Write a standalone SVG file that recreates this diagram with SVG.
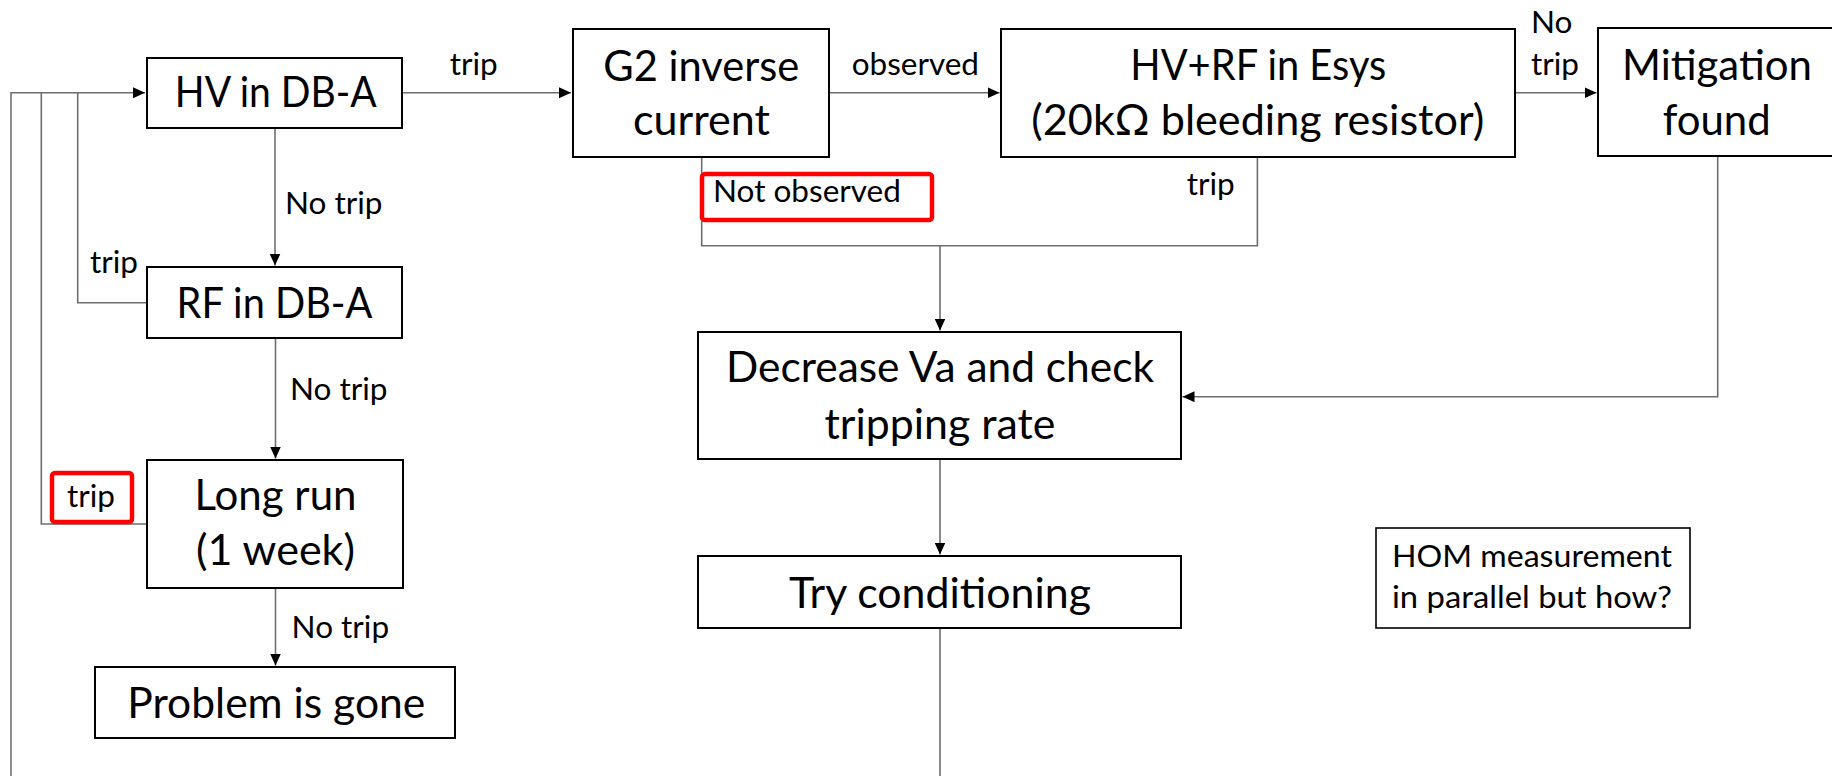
<svg xmlns="http://www.w3.org/2000/svg" width="1832" height="776" viewBox="0 0 1832 776">
<defs>
<style>
.box{fill:#fff;stroke:#000;stroke-width:2}
.hom{fill:#fff;stroke:#000;stroke-width:1.6}
.red{fill:none;stroke:#ff0000;stroke-width:4.5}
.t{font-family:Lato,"Liberation Sans",sans-serif;font-size:42px;fill:#000;text-anchor:middle}
.l{font-family:Lato,"Liberation Sans",sans-serif;font-size:31.5px;fill:#000}
.c{fill:none;stroke:#6e6e6e;stroke-width:1.6}
</style>
<marker id="ah" markerUnits="userSpaceOnUse" markerWidth="13" markerHeight="12" refX="12" refY="5.5" orient="auto">
<path d="M0,0 L12,5.5 L0,11 z" fill="#000"/>
</marker>
</defs>
<rect width="1832" height="776" fill="#fff"/>
<g id="connectors">
<path class="c" d="M11,776 V92.7 H145" marker-end="url(#ah)"/>
<path class="c" d="M147,302.7 H77.7 V92.7"/>
<path class="c" d="M147,524 H41.3 V92.7"/>
<path class="c" d="M402,92.7 H571" marker-end="url(#ah)"/>
<path class="c" d="M275,128 V265.5" marker-end="url(#ah)"/>
<path class="c" d="M275.5,338 V458.5" marker-end="url(#ah)"/>
<path class="c" d="M275.5,588 V665.5" marker-end="url(#ah)"/>
<path class="c" d="M829,92.7 H999.5" marker-end="url(#ah)"/>
<path class="c" d="M1515,92.7 H1596.5" marker-end="url(#ah)"/>
<path class="c" d="M701.7,157 V245.7 H1257.4 V157"/>
<path class="c" d="M940,245.7 V330.5" marker-end="url(#ah)"/>
<path class="c" d="M1717.7,156 V396.7 H1182.5" marker-end="url(#ah)"/>
<path class="c" d="M940,459 V554.5" marker-end="url(#ah)"/>
<path class="c" d="M940,628 V776"/>
</g>
<g id="labels">
<text class="l" x="449.7" y="75">trip</text>
<text class="l" x="285" y="214">No trip</text>
<text class="l" x="90" y="273">trip</text>
<text class="l" x="290" y="400">No trip</text>
<rect class="red" x="52" y="473" width="80" height="49" rx="3"/>
<text class="l" x="67" y="506.7">trip</text>
<text class="l" x="291.6" y="638.3">No trip</text>
<text class="l" x="851.7" y="75">observed</text>
<rect class="red" x="702" y="174" width="230" height="46" rx="3"/>
<text class="l" x="713" y="201.7">Not observed</text>
<text class="l" x="1186.7" y="195">trip</text>
<text class="l" x="1531" y="33.3">No</text>
<text class="l" x="1531" y="75">trip</text>
</g>
<g id="hv-dba">
<rect class="box" x="147" y="58" width="255" height="70"/>
<text class="t" x="275.8" y="107" textLength="202" lengthAdjust="spacingAndGlyphs">HV in DB-A</text>
</g>
<g id="rf-dba">
<rect class="box" x="147" y="267" width="255" height="71"/>
<text class="t" x="274.5" y="318" textLength="196" lengthAdjust="spacingAndGlyphs">RF in DB-A</text>
</g>
<g id="long-run">
<rect class="box" x="147" y="460" width="256" height="128"/>
<text class="t" x="275.5" y="510" textLength="162" lengthAdjust="spacingAndGlyphs">Long run</text>
<text class="t" x="275.5" y="565" textLength="159" lengthAdjust="spacingAndGlyphs">(1 week)</text>
</g>
<g id="problem-gone">
<rect class="box" x="95" y="667" width="360" height="71"/>
<text class="t" x="276.3" y="717.7" textLength="298" lengthAdjust="spacingAndGlyphs">Problem is gone</text>
</g>
<g id="g2-current">
<rect class="box" x="573" y="29" width="256" height="128"/>
<text class="t" x="701.3" y="81" textLength="196" lengthAdjust="spacingAndGlyphs">G2 inverse</text>
<text class="t" x="701.5" y="135" textLength="137" lengthAdjust="spacingAndGlyphs">current</text>
</g>
<g id="hvrf-esys">
<rect class="box" x="1001" y="29" width="514" height="128"/>
<text class="t" x="1258.3" y="80" textLength="256" lengthAdjust="spacingAndGlyphs">HV+RF in Esys</text>
<text class="t" x="1257.8" y="135" textLength="453" lengthAdjust="spacingAndGlyphs">(20kΩ bleeding resistor)</text>
</g>
<g id="mitigation">
<rect class="box" x="1598" y="28" width="242" height="128"/>
<text class="t" x="1717" y="80" textLength="190" lengthAdjust="spacingAndGlyphs">Mitigation</text>
<text class="t" x="1716.7" y="135" textLength="108" lengthAdjust="spacingAndGlyphs">found</text>
</g>
<g id="decrease-va">
<rect class="box" x="698" y="332" width="483" height="127"/>
<text class="t" x="940" y="382" textLength="428" lengthAdjust="spacingAndGlyphs">Decrease Va and check</text>
<text class="t" x="940" y="439" textLength="231" lengthAdjust="spacingAndGlyphs">tripping rate</text>
</g>
<g id="try-conditioning">
<rect class="box" x="698" y="556" width="483" height="72"/>
<text class="t" x="940" y="608" textLength="302" lengthAdjust="spacingAndGlyphs">Try conditioning</text>
</g>
<g id="hom-note">
<rect class="hom" x="1376" y="528" width="314" height="100"/>
<text class="l" x="1532" y="566.7" text-anchor="middle" textLength="280" lengthAdjust="spacingAndGlyphs">HOM measurement</text>
<text class="l" x="1532" y="608.3" text-anchor="middle" textLength="280" lengthAdjust="spacingAndGlyphs">in parallel but how?</text>
</g>
</svg>
